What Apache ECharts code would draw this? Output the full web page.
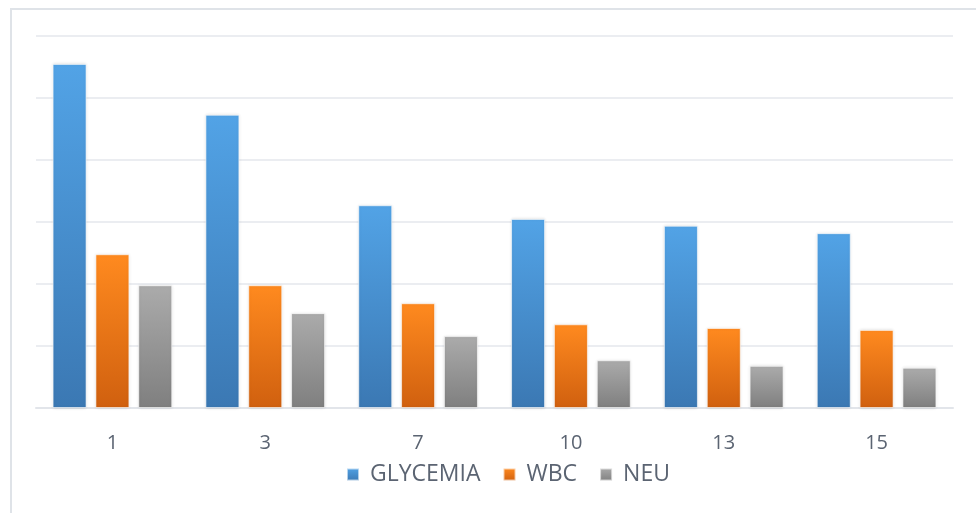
<!DOCTYPE html>
<html>
<head>
<meta charset="utf-8">
<script src="https://cdn.jsdelivr.net/npm/echarts@6/dist/echarts.min.js"></script>
<style>
  html, body { margin: 0; padding: 0; background: #fff; }
  #chart { width: 976px; height: 513px; }
</style>
</head>
<body>
<div id="chart"></div>
<script>
// values, in grid-line units (6 steps)
const days = ['1', '3', '7', '10', '13', '15'];
const glycemia = [5.55, 4.73, 3.27, 3.05, 2.94, 2.82];
const wbc = [2.48, 1.98, 1.69, 1.35, 1.29, 1.26];
const neu = [1.98, 1.53, 1.16, 0.77, 0.68, 0.65];

const grad = (top, bottom) => new echarts.graphic.LinearGradient(0, 0, 0, 1, [
  { offset: 0, color: top },
  { offset: 1, color: bottom }
]);

const txt = '#5b6472';
const font = 'Open Sans';

const mychart = echarts.init(document.getElementById('chart'), null, { renderer: 'canvas' });

const barSeries = (name, data, top, bottom) => ({
  name,
  type: 'bar',
  data,
  barWidth: 34,
  barGap: '26%',
  itemStyle: {
    color: grad(top, bottom),
    borderColor: 'rgba(255,255,255,0.6)',
    borderWidth: 1,
    shadowColor: 'rgba(0,0,0,0.12)',
    shadowBlur: 3
  }
});

mychart.setOption({
  animation: false,
  backgroundColor: '#fff',
  graphic: [{
    type: 'rect',
    shape: { x: 11, y: 9, width: 980, height: 520 },
    style: { fill: 'none', stroke: '#dfe3e8', lineWidth: 2 },
    silent: true
  }],
  grid: { left: 36, right: 23, top: 36, bottom: 105 },
  legend: {
    bottom: 22,
    left: 341,
    itemWidth: 12,
    itemHeight: 12,
    itemGap: 22,
    icon: 'rect',
    textStyle: { color: txt, fontSize: 23, fontFamily: font, padding: [0, 0, 0, 6] },
    data: ['GLYCEMIA', 'WBC', 'NEU']
  },
  xAxis: {
    type: 'category',
    data: days,
    axisLine: { lineStyle: { color: '#e2e5ea', width: 2 } },
    axisTick: { show: false },
    axisLabel: { color: txt, fontSize: 20, fontFamily: font, margin: 25 }
  },
  yAxis: {
    type: 'value',
    min: 0,
    max: 6,
    interval: 1,
    axisLabel: { show: false },
    axisLine: { show: false },
    axisTick: { show: false },
    splitLine: { lineStyle: { color: '#e4e7ec', width: 1.5 } }
  },
  series: [
    barSeries('GLYCEMIA', glycemia, '#52a3e6', '#3b78b3'),
    barSeries('WBC', wbc, '#ff8a1f', '#d0600f'),
    barSeries('NEU', neu, '#ababab', '#7f7f7f')
  ]
});
</script>
</body>
</html>
